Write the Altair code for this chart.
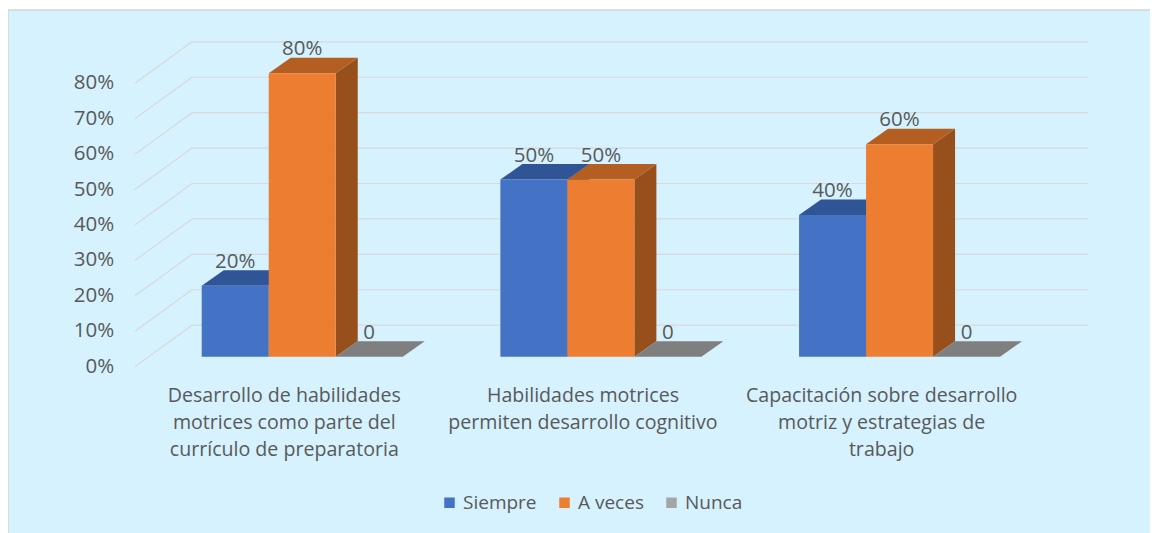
import altair as alt
import pandas as pd

# ---------------- data ----------------
categories = [
    "Desarrollo de habilidades motrices como parte del currículo de preparatoria",
    "Habilidades motrices permiten desarrollo cognitivo",
    "Capacitación sobre desarrollo motriz y estrategias de trabajo",
]
category_lines = [
    ["Desarrollo de habilidades", "motrices como parte del", "currículo de preparatoria"],
    ["Habilidades motrices", "permiten desarrollo cognitivo"],
    ["Capacitación sobre desarrollo", "motriz y estrategias de", "trabajo"],
]
series = ["Siempre", "A veces", "Nunca"]
siempre = [0.20, 0.50, 0.40]
a_veces = [0.80, 0.50, 0.60]
nunca = [0.0, 0.0, 0.0]
y_ticks = [0.0, 0.1, 0.2, 0.3, 0.4, 0.5, 0.6, 0.7, 0.8]
y_tick_labels = ["0%", "10%", "20%", "30%", "40%", "50%", "60%", "70%", "80%"]

# ---------------- styles ----------------
FRONT = ["#4472c4", "#ed7d31", "#a5a5a5"]
TOP = ["#2f5597", "#b55e22", "#7f7f7f"]
SIDE = ["#294a85", "#974f1c", "#6e6e6e"]
TEXT = "#595959"
GRID = "#d9d9d9"
FONT = "Open Sans"

# ---------------- 3-D geometry (in data units) ----------------
# x: one unit per category band (front plane), y: percent
W, H = 1142, 523
PX_PER_U = 298.67
X_CENTER0 = 276.3
PX_PER_PCT = 3.5425
Y_ZERO = 356.7
XMIN = (0 - X_CENTER0) / PX_PER_U
XMAX = (W - X_CENTER0) / PX_PER_U
YMIN = (Y_ZERO - H) / PX_PER_PCT
YMAX = Y_ZERO / PX_PER_PCT

WALL_DX, WALL_DY = 57 / PX_PER_U, 41.5 / PX_PER_PCT      # back wall offset
BAR_DX, BAR_DY = 0.06, 2.82                               # bar plane offset
BW = 67 / PX_PER_U                                        # bar width
DEPTH_DX, DEPTH_DY = 22 / PX_PER_U, 15.5 / PX_PER_PCT     # bar depth
FLOOR_L, FLOOR_R = -0.5, len(categories) - 0.5

xs = alt.Scale(domain=[XMIN, XMAX], nice=False, zero=False)
ys = alt.Scale(domain=[YMIN, YMAX], nice=False, zero=False)

values = [siempre, a_veces, nunca]

fronts, tops, sides, labels = [], [], [], []
for i, cat in enumerate(categories):
    center = i + BAR_DX
    for j, s in enumerate(series):
        v = values[j][i] * 100
        x0 = center + (j - 1.5) * BW
        x1 = x0 + BW
        y0 = BAR_DY
        y1 = v + BAR_DY
        bid = f"{i}-{j}"
        fronts.append(dict(series=s, x0=x0, x1=x1, y0=y0, y1=y1))
        for xx, ya, yb in [
            (x0, y1, y1),
            (x0 + DEPTH_DX, y1 + DEPTH_DY, y1),
            (x1, y1 + DEPTH_DY, y1),
            (x1 + DEPTH_DX, y1 + DEPTH_DY, y1 + DEPTH_DY),
        ]:
            tops.append(dict(series=s, id=bid, x=xx, ya=ya, yb=yb))
        for xx, ya, yb in [
            (x1, y1, y0),
            (x1 + DEPTH_DX, y1 + DEPTH_DY, y0 + DEPTH_DY),
        ]:
            sides.append(dict(series=s, id=bid, x=xx, ya=ya, yb=yb))
        txt = f"{round(v)}%" if v > 0 else "0"
        labels.append(dict(x=(x0 + x1) / 2, y=y1 + DEPTH_DY, t=txt))

grid = []
for t, lab in zip(y_ticks, y_tick_labels):
    p = t * 100
    grid.append(dict(xa=FLOOR_L + WALL_DX, xb=FLOOR_R + WALL_DX, ya=p + WALL_DY, yb=p + WALL_DY, lab=lab,
                     dxa=FLOOR_L, dxb=FLOOR_L + WALL_DX, dya=p, dyb=p + WALL_DY,
                     lx=FLOOR_L - 20.7 / PX_PER_U, ly=p))

LINE0, LINE_STEP = -9.9, 27 / PX_PER_PCT
cat_rows = []
for i, lines in enumerate(category_lines):
    for k, ln in enumerate(lines):
        cat_rows.append(dict(x=i, y=LINE0 - k * LINE_STEP, t=ln))

df_front = pd.DataFrame(fronts)
df_top = pd.DataFrame(tops)
df_side = pd.DataFrame(sides)
df_lab = pd.DataFrame(labels)
df_grid = pd.DataFrame(grid)
df_cat = pd.DataFrame(cat_rows)

# ---------------- layers ----------------
border_top = alt.Chart(df_grid.head(1)).mark_rule(color="#d4d4d4", strokeWidth=1.5).encode(
    x=alt.value(0), x2=alt.value(W), y=alt.value(0)
)
border_left = alt.Chart(df_grid.head(1)).mark_rule(color="#d4d4d4", strokeWidth=1.5).encode(
    x=alt.value(0), y=alt.value(0), y2=alt.value(H)
)
wall = alt.Chart(df_grid).mark_rule(color=GRID, strokeWidth=1.2).encode(
    x=alt.X("xa:Q", scale=xs, axis=None), x2="xb:Q",
    y=alt.Y("ya:Q", scale=ys, axis=None), y2="yb:Q",
)
diag = alt.Chart(df_grid).mark_rule(color=GRID, strokeWidth=1.2).encode(
    x=alt.X("dxa:Q", scale=xs, axis=None), x2="dxb:Q",
    y=alt.Y("dya:Q", scale=ys, axis=None), y2="dyb:Q",
)
ylabels = alt.Chart(df_grid).mark_text(
    align="right", baseline="middle", font=FONT, fontSize=20.5, color=TEXT
).encode(
    x=alt.X("lx:Q", scale=xs, axis=None), y=alt.Y("ly:Q", scale=ys, axis=None), text="lab:N"
)

side_layer = alt.Chart(df_side).mark_area(interpolate="linear", strokeWidth=0).encode(
    x=alt.X("x:Q", scale=xs, axis=None),
    y=alt.Y("ya:Q", scale=ys, axis=None), y2="yb:Q",
    detail="id:N",
    color=alt.Color("series:N", scale=alt.Scale(domain=series, range=SIDE), legend=None),
)
top_layer = alt.Chart(df_top).mark_area(interpolate="linear", strokeWidth=0).encode(
    x=alt.X("x:Q", scale=xs, axis=None),
    y=alt.Y("ya:Q", scale=ys, axis=None), y2="yb:Q",
    detail="id:N",
    color=alt.Color("series:N", scale=alt.Scale(domain=series, range=TOP), legend=None),
)
front_layer = alt.Chart(df_front).mark_rect(strokeWidth=0).encode(
    x=alt.X("x0:Q", scale=xs, axis=None), x2="x1:Q",
    y=alt.Y("y0:Q", scale=ys, axis=None), y2="y1:Q",
    color=alt.Color(
        "series:N",
        scale=alt.Scale(domain=series, range=FRONT),
        legend=alt.Legend(
            title=None, orient="none", direction="horizontal",
            legendX=432, legendY=483, symbolType="square", symbolSize=110,
            symbolStrokeWidth=0, labelFont=FONT, labelFontSize=19,
            labelColor=TEXT, labelOffset=4, columnPadding=18,
        ),
    ),
)
value_labels = alt.Chart(df_lab).mark_text(
    align="center", baseline="alphabetic", dy=-2.5, font=FONT, fontSize=20.5, color=TEXT
).encode(
    x=alt.X("x:Q", scale=xs, axis=None), y=alt.Y("y:Q", scale=ys, axis=None), text="t:N"
)
cat_labels = alt.Chart(df_cat).mark_text(
    align="center", baseline="alphabetic", font=FONT, fontSize=19.6, color=TEXT
).encode(
    x=alt.X("x:Q", scale=xs, axis=None), y=alt.Y("y:Q", scale=ys, axis=None), text="t:N"
)

chart = alt.layer(
    border_top, border_left, wall, diag, ylabels, side_layer, top_layer, front_layer,
    value_labels, cat_labels
).resolve_scale(color="independent").properties(
    width=W, height=H,
    padding={"left": 0, "top": 2, "right": 0, "bottom": 0},
    autosize=alt.AutoSizeParams(type="none"),
    background="white",
).configure_view(fill="#d5f2fe", stroke=None)

chart.save("out.html", embed_options={"renderer": "svg", "actions": False})
